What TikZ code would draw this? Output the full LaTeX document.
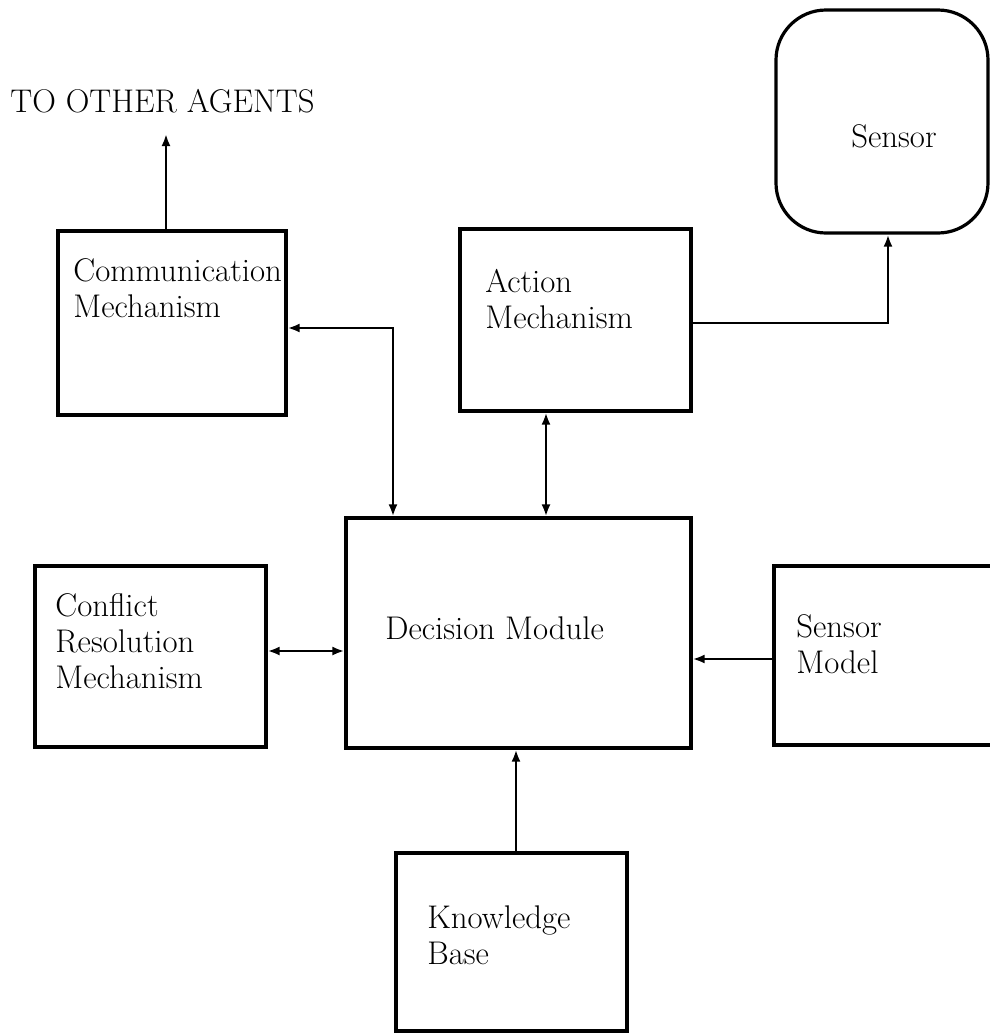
\documentclass[tikz,border=0pt]{standalone}
\usetikzlibrary{arrows.meta}
\begin{document}
\begin{tikzpicture}[x=0.5pt,y=-0.5pt,
  box/.style={draw, line width=1.6pt, inner sep=0pt},
  lbl/.style={anchor=base west, inner sep=0pt, align=left, font=\fontsize{16.4}{17.8}\selectfont},
  conn/.style={line width=1.4pt, >={Latex[length=6pt,width=4.5pt]}}]
\useasboundingbox (0,0) rectangle (990,1034);
\clip (0,0) rectangle (990,1034);
% boxes
\node[box, minimum width=114pt, minimum height=92pt] (comm) at (172,323) {};
\node[box, minimum width=115.5pt, minimum height=91pt] (act) at (575.5,320) {};
\node[box, minimum width=172.5pt, minimum height=115pt] (dec) at (518.5,633) {};
\node[box, minimum width=115.5pt, minimum height=90.5pt] (conf) at (150.5,656.5) {};
\node[box, minimum width=118pt, minimum height=89.5pt] (smod) at (892,655.5) {};
\node[box, minimum width=115.5pt, minimum height=89pt] (kb) at (511.5,942) {};
\node[box, rounded corners=25pt, minimum width=106pt, minimum height=111.5pt] (sens) at (882,121.5) {};
% texts (base anchor = baseline of last line)
\node[lbl] (toa) at (10,112) {TO OTHER AGENTS};
\node[lbl] (commt) at (73,317) {Communication\\Mechanism};
\node[lbl] (actt) at (485,328) {Action\\Mechanism};
\node[lbl, anchor=base] (senst) at (894,147) {Sensor};
\node[lbl] (dect) at (385,639) {Decision Module};
\node[lbl] (conft) at (55,688) {Conflict\\Resolution\\Mechanism};
\node[lbl] (smodt) at (796,673) {Sensor\\Model};
\node[lbl] (kbt) at (427,964) {Knowledge\\Base};
% junction coordinates
\coordinate (c1) at (166,134);
\coordinate (j1) at (393,328);
\coordinate (j2) at (546,0);
\coordinate (j3) at (888,323);
\coordinate (j4) at (0,651);
\coordinate (j5) at (0,659);
\coordinate (j6) at (516,0);
% connectors
\draw[conn,->] (c1 |- comm.north) -- (c1);
\draw[conn,<->] (comm.east |- j1) -- (j1) -- (j1 |- dec.north);
\draw[conn,<->] (j2 |- act.south) -- (j2 |- dec.north);
\draw[conn,->] (act.east |- j3) -- (j3) -- (j3 |- sens.south);
\draw[conn,<->] (conf.east |- j4) -- (dec.west |- j4);
\draw[conn,->] (smod.west |- j5) -- (dec.east |- j5);
\draw[conn,->] (j6 |- kb.north) -- (j6 |- dec.south);
\end{tikzpicture}
\end{document}
